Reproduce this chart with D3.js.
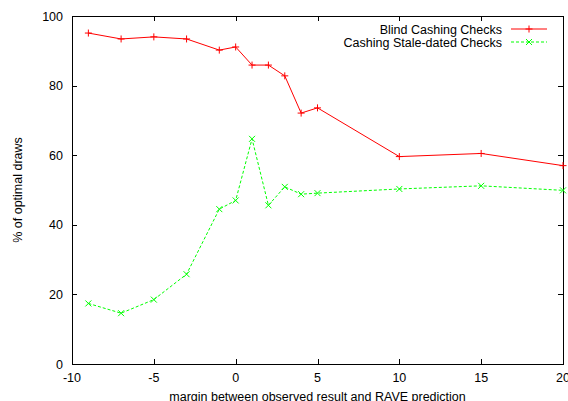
<!DOCTYPE html>
<html><head><meta charset="utf-8">
<script src="https://cdn.jsdelivr.net/npm/d3@7"></script>
<style>body{margin:0;background:#fff}svg{display:block}text{font-family:"Liberation Sans",Arial,sans-serif;font-size:12.5px;fill:#000}</style>
</head><body><svg id="c" width="568" height="401"></svg>
<script>
const xValues = [-9, -7, -5, -3, -1, 0, 1, 2, 3, 4, 5, 10, 15, 20];
const blindValues = [95.1, 93.4, 94.0, 93.4, 90.2, 91.1, 85.9, 85.9, 82.8, 72.1, 73.6, 59.6, 60.5, 57.0];
const staleValues = [17.4, 14.6, 18.5, 25.8, 44.5, 47.0, 64.7, 45.6, 50.9, 48.8, 49.1, 50.3, 51.2, 49.9];
const seriesNames = ["Blind Cashing Checks", "Cashing Stale-dated Checks"];
const xTicks = [-10, -5, 0, 5, 10, 15, 20];
const yTicks = [0, 20, 40, 60, 80, 100];
const xLabel = "margin between observed result and RAVE prediction";
const yLabel = "% of optimal draws";

const svg = d3.select("#c");
const L = 72, R = 563, T = 16, B = 364;
const x = d3.scaleLinear().domain([-10, 20]).range([L, R]);
const y = d3.scaleLinear().domain([0, 100]).range([B, T]);

// ticks (inward, mirrored)
const tl = 5;
const g = svg.append("g").attr("stroke", "#000").attr("stroke-width", 1);
xTicks.forEach(v => {
  const px = Math.round(x(v)) + 0.5;
  g.append("line").attr("x1", px).attr("x2", px).attr("y1", B).attr("y2", B - tl);
  g.append("line").attr("x1", px).attr("x2", px).attr("y1", T).attr("y2", T + tl);
});
yTicks.forEach(v => {
  const py = Math.round(y(v)) + 0.5;
  g.append("line").attr("x1", L).attr("x2", L + tl).attr("y1", py).attr("y2", py);
  g.append("line").attr("x1", R).attr("x2", R - tl).attr("y1", py).attr("y2", py);
});
svg.append("rect").attr("x", L + 0.5).attr("y", T + 0.5).attr("width", R - L).attr("height", B - T)
  .attr("fill", "none").attr("stroke", "#000").attr("stroke-width", 1);

// tick labels
xTicks.forEach(v => {
  svg.append("text").attr("x", x(v)).attr("y", 382).attr("text-anchor", "middle").text(v);
});
yTicks.forEach(v => {
  svg.append("text").attr("x", 63).attr("y", y(v) + 4.5).attr("text-anchor", "end").text(v);
});
svg.append("text").attr("x", (L + R) / 2).attr("y", 401).attr("text-anchor", "middle").text(xLabel);
svg.append("text").attr("transform", `translate(22,${(T + B) / 2}) rotate(-90)`).attr("text-anchor", "middle").text(yLabel);

const line = d3.line().x((d, i) => x(xValues[i])).y(d => y(d));
function plus(sel, cx, cy, s, col) {
  sel.append("path").attr("d", `M${cx - s},${cy}H${cx + s}M${cx},${cy - s}V${cy + s}`).attr("stroke", col).attr("fill", "none");
}
function cross(sel, cx, cy, s, col) {
  sel.append("path").attr("d", `M${cx - s},${cy - s}L${cx + s},${cy + s}M${cx - s},${cy + s}L${cx + s},${cy - s}`).attr("stroke", col).attr("fill", "none");
}
const red = "#ff0000", green = "#00ff00";
const plot = svg.append("g");
plot.append("path").attr("d", line(blindValues)).attr("fill", "none").attr("stroke", red).attr("stroke-width", 1);
plot.append("path").attr("d", line(staleValues)).attr("fill", "none").attr("stroke", green).attr("stroke-width", 1).attr("stroke-dasharray", "3,2");
blindValues.forEach((v, i) => plus(plot, x(xValues[i]), y(v), 3.5, red));
staleValues.forEach((v, i) => cross(plot, x(xValues[i]), y(v), 3, green));

// legend
const leg = svg.append("g");
const rows = [29, 42];
seriesNames.forEach((n, i) => {
  leg.append("text").attr("x", 502).attr("y", rows[i] + 4.5).attr("text-anchor", "end").text(n);
});
leg.append("line").attr("x1", 511).attr("x2", 547).attr("y1", rows[0]).attr("y2", rows[0]).attr("stroke", red);
plus(leg, 529, rows[0], 3.5, red);
leg.append("line").attr("x1", 511).attr("x2", 547).attr("y1", rows[1]).attr("y2", rows[1]).attr("stroke", green).attr("stroke-dasharray", "3,2");
cross(leg, 529, rows[1], 3, green);
</script></body></html>
